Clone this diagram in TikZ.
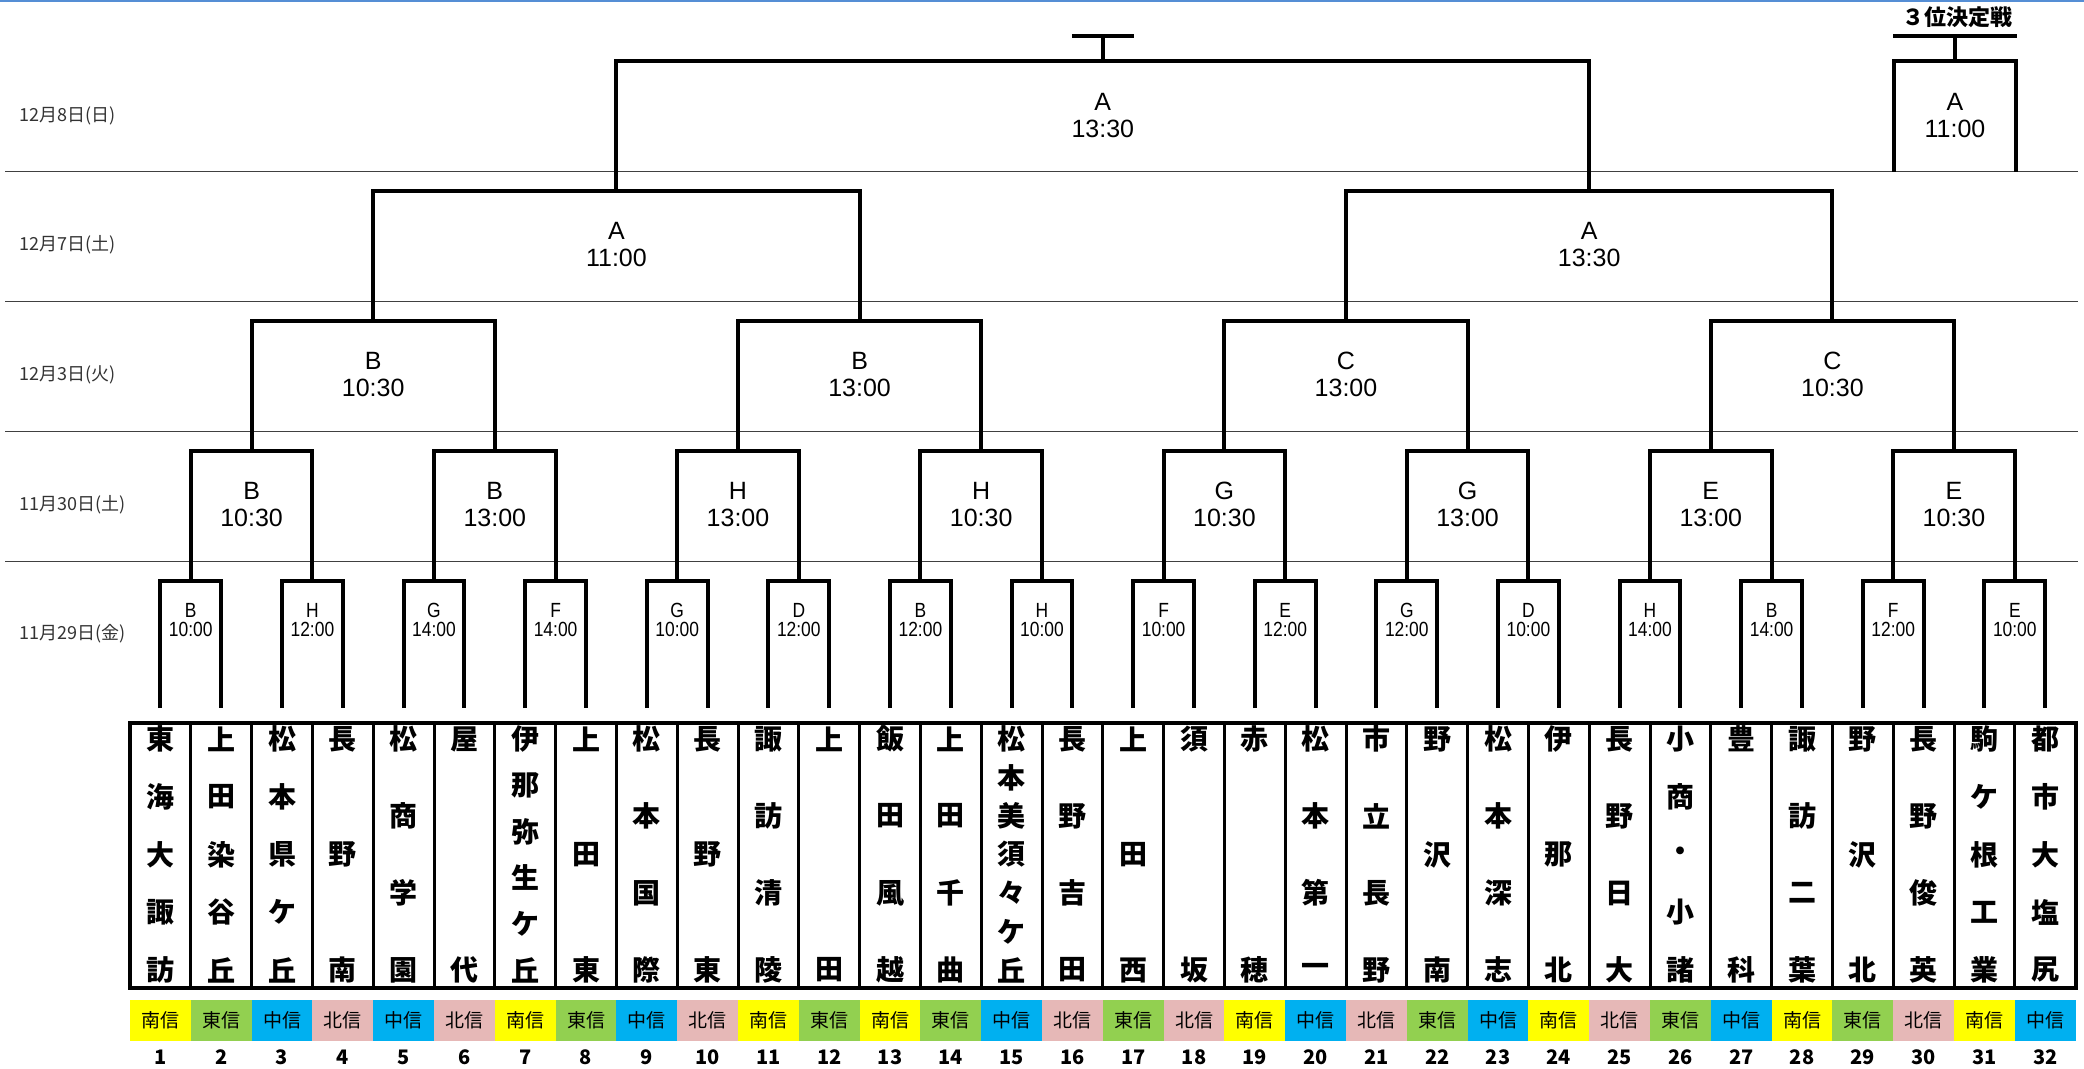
\documentclass[tikz,border=0pt]{standalone}
\usepackage{fontspec}
\setmainfont{Liberation Sans}
\newfontfamily\jpfont{Noto Sans CJK JP}
\newfontfamily\narrowfont[FakeStretch=0.85]{Liberation Sans}
\definecolor{nanshin}{HTML}{FFFF00}
\definecolor{toshin}{HTML}{92D050}
\definecolor{chushin}{HTML}{00B0F0}
\definecolor{hokushin}{HTML}{E6B8B7}
\definecolor{topblue}{HTML}{558ED5}
\tikzset{
  bracket/.style={line width=4pt},
  dayrule/.style={line width=1.3pt, draw=black!75},
  daylabel/.style={anchor=west, text=black!80, font=\jpfont\fontsize{18}{20}\selectfont},
  smallgame/.style={align=center, inner sep=0pt, font=\narrowfont\fontsize{20.5}{19}\selectfont},
  game/.style={align=center, inner sep=0pt, font=\fontsize{25}{27}\selectfont},
  teamchar/.style={inner sep=0pt, font=\jpfont\bfseries\fontsize{28}{28}\selectfont},
  teamframe/.style={line width=3.5pt},
  teamrule/.style={line width=3pt},
  regionbox/.style={minimum width=60.8pt, minimum height=41pt, inner sep=0pt, font=\jpfont\fontsize{19}{19}\selectfont},
  seednum/.style={inner sep=0pt, font=\jpfont\bfseries\fontsize{20}{20}\selectfont}
}

\begin{document}
\begin{tikzpicture}[x=1pt, y=-1pt]
  \useasboundingbox (0,0) rectangle (2084,1068);
  \draw[line width=2.5pt, draw=topblue] (0,1) -- (2084,1);
  % days
  \foreach \y/\d [count=\r] in {116/12月8日(日), 245/12月7日(土), 375/12月3日(火),
                               505/11月30日(土), 634/11月29日(金)}
    \node[daylabel] (day\r) at (16,\y) {\d};
  \foreach \y in {171.5, 301.5, 431.5, 561.5}
    \draw[dayrule] (5,\y) -- (2078,\y);

  % teams
  \foreach \i/\len/\name/\reg/\rname in {
      1/5/{東,海,大,諏,訪}/nanshin/南信, 2/5/{上,田,染,谷,丘}/toshin/東信,
      3/5/{松,本,県,ケ,丘}/chushin/中信, 4/3/{長,野,南}/hokushin/北信,
      5/4/{松,商,学,園}/chushin/中信, 6/2/{屋,代}/hokushin/北信,
      7/6/{伊,那,弥,生,ケ,丘}/nanshin/南信, 8/3/{上,田,東}/toshin/東信,
      9/4/{松,本,国,際}/chushin/中信, 10/3/{長,野,東}/hokushin/北信,
      11/4/{諏,訪,清,陵}/nanshin/南信, 12/2/{上,田}/toshin/東信,
      13/4/{飯,田,風,越}/nanshin/南信, 14/4/{上,田,千,曲}/toshin/東信,
      15/7/{松,本,美,須,々,ケ,丘}/chushin/中信, 16/4/{長,野,吉,田}/hokushin/北信,
      17/3/{上,田,西}/toshin/東信, 18/2/{須,坂}/hokushin/北信,
      19/2/{赤,穂}/nanshin/南信, 20/4/{松,本,第,一}/chushin/中信,
      21/4/{市,立,長,野}/hokushin/北信, 22/3/{野,沢,南}/toshin/東信,
      23/4/{松,本,深,志}/chushin/中信, 24/3/{伊,那,北}/nanshin/南信,
      25/4/{長,野,日,大}/hokushin/北信, 26/5/{小,商,・,小,諸}/toshin/東信,
      27/2/{豊,科}/chushin/中信, 28/4/{諏,訪,二,葉}/nanshin/南信,
      29/3/{野,沢,北}/toshin/東信, 30/4/{長,野,俊,英}/hokushin/北信,
      31/5/{駒,ケ,根,工,業}/nanshin/南信, 32/5/{都,市,大,塩,尻}/chushin/中信}{
    \pgfmathsetmacro\cx{160.4+60.8*(\i-1)}
    \coordinate (t\i) at (\cx,708);
    \foreach \ch [count=\j] in \name
      \node[teamchar] (t\i-\j) at (\cx,{739+231*(\j-1)/(\len-1)}) {\ch};
    \node[regionbox, fill=\reg] (r\i) at (\cx,1020.5) {\rname};
    \node[seednum] (n\i) at (\cx,1057) {\i};
  }
  \draw[teamframe] (130,723) rectangle (2076,988);
  \foreach \k in {1,...,31}
    \draw[teamrule] ({130+60.8*\k},723) -- ({130+60.8*\k},988);

  % 11/29
  \foreach \k/\g/\tm in {1/B/10:00, 2/H/12:00, 3/G/14:00, 4/F/14:00,
                         5/G/10:00, 6/D/12:00, 7/B/12:00, 8/H/10:00,
                         9/F/10:00, 10/E/12:00, 11/G/12:00, 12/D/10:00,
                         13/H/14:00, 14/B/14:00, 15/F/12:00, 16/E/10:00}{
    \pgfmathsetmacro\cx{190.8+121.6*(\k-1)}
    \pgfmathtruncatemacro\lt{2*\k-1}
    \pgfmathtruncatemacro\rt{2*\k}
    \coordinate (a\k) at (\cx,581);
    \node[smallgame] (la\k) at (\cx,620) {\g\\\tm};
    \draw[bracket] (t\lt) |- (a\k) -| (t\rt);
  }
  % 11/30
  \foreach \k/\g/\tm in {1/B/10:30, 2/B/13:00, 3/H/13:00, 4/H/10:30,
                         5/G/10:30, 6/G/13:00, 7/E/13:00, 8/E/10:30}{
    \pgfmathsetmacro\cx{251.6+243.2*(\k-1)}
    \pgfmathtruncatemacro\lt{2*\k-1}
    \pgfmathtruncatemacro\rt{2*\k}
    \coordinate (b\k) at (\cx,451);
    \node[game] (lb\k) at (\cx,504.5) {\g\\\tm};
    \draw[bracket] (a\lt) |- (b\k) -| (a\rt);
  }
  % 12/3
  \foreach \k/\g/\tm in {1/B/10:30, 2/B/13:00, 3/C/13:00, 4/C/10:30}{
    \pgfmathsetmacro\cx{373.2+486.4*(\k-1)}
    \pgfmathtruncatemacro\lt{2*\k-1}
    \pgfmathtruncatemacro\rt{2*\k}
    \coordinate (c\k) at (\cx,321);
    \node[game] (lc\k) at (\cx,374.5) {\g\\\tm};
    \draw[bracket] (b\lt) |- (c\k) -| (b\rt);
  }
  % 12/7
  \foreach \k/\g/\tm in {1/A/11:00, 2/A/13:30}{
    \pgfmathsetmacro\cx{616.4+972.8*(\k-1)}
    \pgfmathtruncatemacro\lt{2*\k-1}
    \pgfmathtruncatemacro\rt{2*\k}
    \coordinate (d\k) at (\cx,191);
    \node[game] (ld\k) at (\cx,244.5) {\g\\\tm};
    \draw[bracket] (c\lt) |- (d\k) -| (c\rt);
  }
  % 12/8 final
  \coordinate (fin) at (1102.8,61);
  \coordinate (top) at (1102.8,36);
  \node[game] (lfin) at (fin |- 0,116) {A\\13:30};
  \draw[bracket] (d1) |- (fin) -| (d2);
  \draw[bracket] (fin) -- (top);
  \draw[bracket] ([xshift=-31pt]top) -- ([xshift=31pt]top);
  % 3rd place
  \coordinate (third) at (1955,61);
  \coordinate (thl) at (1894,171.5);
  \coordinate (thr) at (2016,171.5);
  \coordinate (top3) at (1955,36);
  \node[game] (lthird) at (third |- 0,116) {A\\11:00};
  \node[font=\jpfont\bfseries\fontsize{22}{22}\selectfont] (title3) at (1957,17) {３位決定戦};
  \draw[bracket] (thl) |- (third) -| (thr);
  \draw[bracket] (third) -- (top3);
  \draw[bracket] ([xshift=-62pt]top3) -- ([xshift=62pt]top3);
\end{tikzpicture}
\end{document}
